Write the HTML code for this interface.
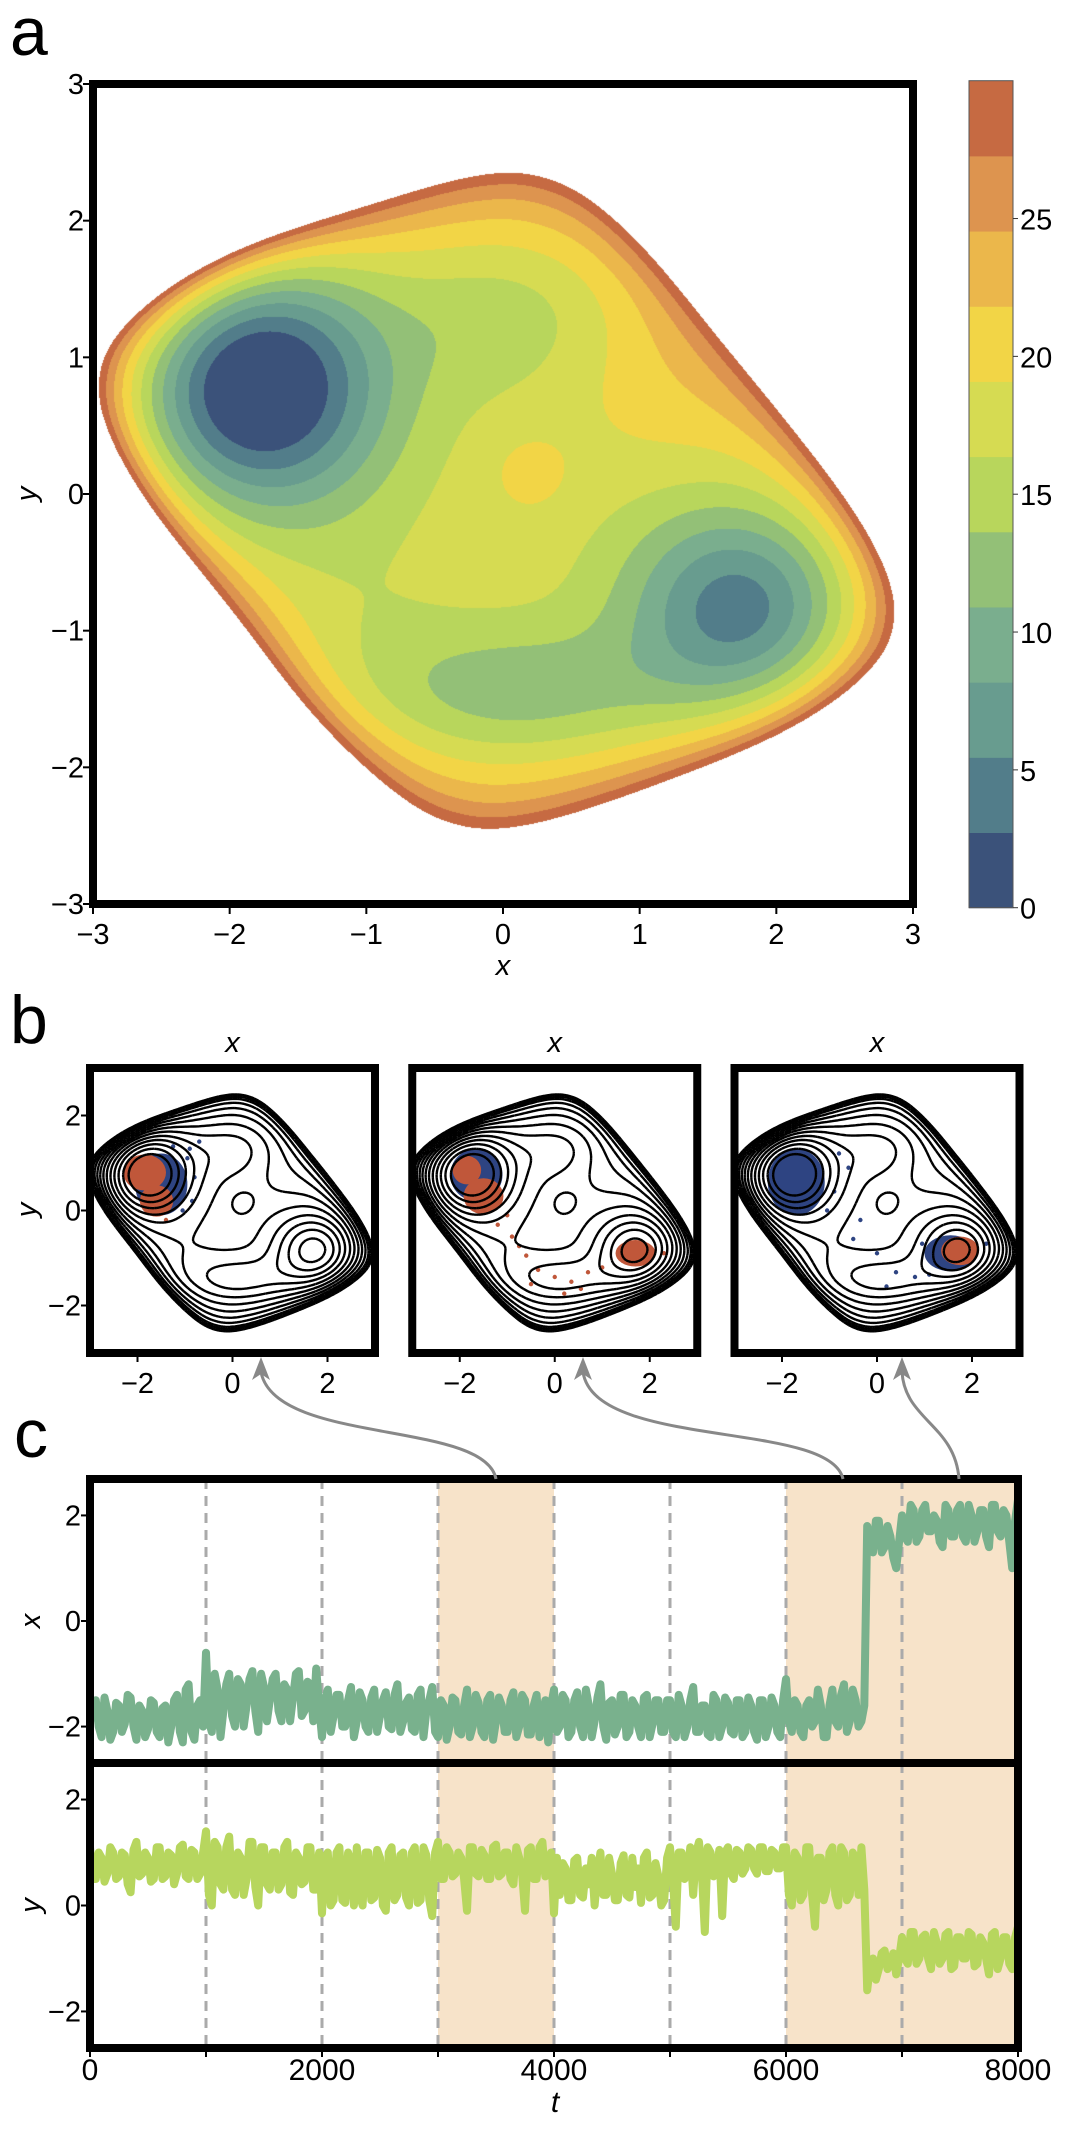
<!DOCTYPE html>
<html><head><meta charset="utf-8"><style>
html,body{margin:0;padding:0;background:#fff;}
#wrap{position:relative;width:1080px;height:2135px;overflow:hidden;}
#pot{position:absolute;left:93px;top:84px;width:820px;height:820px;}
svg{position:absolute;left:0;top:0;}
text{font-family:"Liberation Sans","DejaVu Sans",sans-serif;fill:#000;}
</style></head><body>
<div id="wrap">
<canvas id="pot" width="820" height="820"></canvas>
<svg id="fig" width="1080" height="2135"></svg>
</div>
<script>
// ---------- data ----------
const bandColors=["#3b527a","#527d8a","#689c8f","#7aae8e","#93c077","#b8d65c","#d6db52","#f2d546","#ebb74b","#dd944f","#c66a42"];
const cbarMin=0, cbarMax=30;
const cbarTicks=[0,5,10,15,20,25];
const axisTicksA=[-3,-2,-1,0,1,2,3];
const axisTicksB=[-2,0,2];
const contourLevels=[2.7,5.5,8.2,10.9,13.6,16.4,19.1,21.8,24.5,27.3,30,32,34];
// potential parameters (base rounded-square + gaussian wells)
const baseCenter=[-0.025,-0.05];
const baseAxisA=[0.955,-0.296], baseAxisB=[0.146,0.989];
const baseHalf=[2.93,2.38];
const basePow=1.1;
const baseSoft=0.16;
const baseCoef=[18,4,8]; // b0 + b2*N^2 + b8*N^8
const wellX=[-1.8,1.75,0.1,0.0,0.2,-1.1,1.1];
const wellY=[0.8,-0.85,-1.45,1.3,0.15,-1.0,0.9];
const wellSX=[0.65,0.6,0.8,0.6,0.2,0.5,0.5];
const wellSY=[0.65,0.55,0.35,0.4,0.2,0.5,0.5];
const wellAmp=[-22,-15.5,-7,-4,2.5,-2,1.5];
// time series: main samples at t=i*50, mid samples at t=i*50+25
const tStep=50;
const xSeries=[-1.9,-1.5,-2.2,-1.7,-2.1,-1.6,-1.95,-1.45,-2.25,-1.7,-2.05,-1.55,-2.2,-1.6,-2.0,-1.4,-2.3,-1.2,-2.25,-1.5,
-0.6,-2.1,-1.3,-1.7,-1.0,-2.0,-1.2,-1.6,-0.95,-2.1,-1.25,-1.5,-1.0,-1.9,-1.3,-1.45,-0.95,-1.7,-1.2,-0.9,
-2.2,-1.3,-1.8,-1.4,-2.0,-1.25,-1.9,-1.5,-2.1,-1.3,-1.8,-1.35,-2.05,-1.2,-1.9,-1.45,-2.1,-1.3,-1.7,-1.25,
-2.2,-1.6,-2.0,-1.5,-2.15,-1.3,-2.0,-1.55,-2.2,-1.4,-1.9,-1.6,-2.1,-1.35,-2.0,-1.5,-2.15,-1.4,-1.85,-2.3,
-1.3,-2.0,-1.5,-2.1,-1.35,-2.2,-1.6,-1.9,-1.2,-2.25,-1.5,-2.0,-1.4,-2.1,-1.6,-2.2,-1.4,-1.95,-1.5,-2.1,
-1.5,-2.2,-1.6,-2.0,-1.25,-2.1,-1.6,-2.2,-1.5,-2.0,-1.55,-2.15,-1.5,-2.1,-1.6,-2.25,-1.5,-2.0,-1.6,-2.2,
-1.1,-2.1,-1.6,-2.2,-1.5,-1.9,-1.6,-2.2,-1.3,-2.0,-1.2,-1.9,-1.5,-1.9,1.8,1.3,1.9,1.4,1.6,1.0,
2.0,1.5,2.1,1.6,2.2,1.7,1.9,1.4,2.1,1.6,2.2,1.5,2.0,1.7,2.1,1.4,2.2,1.6,2.0,1.0,2.3];
const xMid=[-1.6,-2.0,-1.45,-2.25,-1.55,-2.1,-1.4,-2.0,-1.6,-2.2,-1.5,-2.1,-1.65,-2.3,-1.5,-2.1,-1.3,-2.1,-1.6,-2.0,
-1.9,-1.0,-2.2,-1.2,-1.8,-1.1,-2.0,-1.1,-1.7,-1.0,-1.9,-1.1,-1.7,-1.2,-1.9,-1.0,-1.8,-1.15,-1.9,-1.6,
-1.5,-2.1,-1.4,-2.0,-1.5,-2.2,-1.35,-2.0,-1.45,-2.1,-1.5,-2.0,-1.4,-2.1,-1.55,-2.05,-1.4,-2.2,-1.5,-2.1,
-1.5,-2.25,-1.45,-2.1,-1.6,-2.2,-1.4,-2.1,-1.5,-2.25,-1.45,-2.1,-1.5,-2.2,-1.4,-2.15,-1.6,-2.2,-1.5,-1.6,
-2.1,-1.4,-2.2,-1.5,-2.0,-1.3,-2.2,-1.45,-2.0,-1.55,-2.15,-1.4,-2.2,-1.5,-2.0,-1.45,-2.2,-1.5,-2.1,-1.5,
-2.1,-1.4,-2.2,-1.5,-2.1,-1.6,-2.15,-1.4,-2.2,-1.45,-2.1,-1.5,-2.2,-1.45,-2.1,-1.5,-2.2,-1.45,-2.1,-1.5,
-1.9,-1.5,-2.1,-1.6,-2.0,-1.3,-2.2,-1.6,-1.9,-1.4,-2.1,-1.3,-2.0,-1.6,1.5,1.9,1.3,1.8,1.2,1.5,
1.6,2.2,1.5,2.1,1.7,2.0,1.5,2.2,1.6,2.1,1.6,2.2,1.5,2.1,1.6,2.2,1.7,2.1,1.5,1.9];
const ySeries=[1.1,0.5,0.9,0.6,1.0,0.55,0.95,0.25,1.2,0.6,0.9,0.5,1.1,0.55,0.95,0.6,1.15,0.5,1.0,0.6,
1.4,0.0,1.1,0.3,1.3,0.2,0.9,0.5,1.2,0.0,1.1,0.3,1.0,0.4,1.2,0.2,0.9,0.45,1.1,0.3,
-0.15,1.0,0.1,1.1,0.05,0.8,1.1,0.0,1.0,0.15,0.9,-0.1,1.1,0.2,1.0,0.0,1.1,0.1,0.95,-0.2,
1.2,0.5,1.0,0.6,0.9,-0.1,1.1,0.55,0.95,0.5,1.15,0.6,1.0,0.4,0.9,-0.1,1.1,0.5,1.2,0.6,
-0.15,0.2,0.7,0.1,0.9,0.15,0.4,0.0,1.0,0.2,0.6,0.1,0.95,0.15,0.35,0.05,1.0,0.2,0.55,0.1,
1.1,-0.4,1.0,0.6,0.2,1.2,-0.5,1.0,0.6,-0.2,1.1,0.5,1.0,0.7,1.05,0.6,1.1,0.65,1.0,0.7,
1.1,0.0,0.9,0.2,1.1,-0.4,0.9,0.3,1.1,0.0,1.0,0.2,0.9,1.1,-1.6,-1.0,-1.2,-0.85,-1.1,-1.3,
-0.6,-1.1,-0.5,-1.0,-0.55,-1.2,-0.7,-1.0,-0.5,-1.15,-0.6,-1.0,-0.55,-1.1,-0.7,-1.3,-0.5,-1.0,-0.6,-1.2,-0.4];
const yMid=[0.5,1.0,0.45,1.1,0.5,1.0,0.4,1.05,0.55,1.0,0.45,1.1,0.5,1.0,0.4,1.1,0.55,1.05,0.5,1.0,
0.2,1.2,0.4,1.1,0.3,1.0,0.2,1.2,0.35,1.1,0.4,1.0,0.3,1.1,0.25,1.0,0.4,1.1,0.3,1.0,
0.9,0.0,1.0,0.1,1.0,0.0,0.2,1.0,0.1,1.05,0.0,1.0,0.1,0.95,0.15,1.0,0.05,1.1,0.1,1.0,
0.5,1.1,0.55,1.0,0.5,1.1,0.6,1.05,0.5,1.1,0.55,1.0,0.5,1.1,0.6,1.05,0.5,1.1,0.55,1.0,
0.9,0.8,0.1,0.85,0.2,0.7,0.9,0.6,0.2,0.9,0.1,0.8,0.2,0.9,0.7,0.9,0.15,0.8,0.0,0.9,
0.5,1.0,0.5,1.1,1.0,0.6,1.1,0.55,1.05,1.0,0.6,1.05,0.6,1.1,0.7,1.1,0.65,1.05,0.7,1.1,
0.2,1.0,0.1,1.1,0.2,0.9,0.1,1.0,0.2,1.1,0.1,1.0,0.2,0.3,-1.1,-1.4,-0.9,-1.2,-0.9,-1.0,
-1.0,-0.5,-1.1,-0.6,-1.0,-0.5,-1.1,-0.55,-1.2,-0.6,-1.0,-0.5,-1.15,-0.6,-1.0,-0.55,-1.2,-0.6,-1.1,-0.6];
const shadeStart=[3000,6000], shadeEnd=[4000,8000];
const dashTimes=[1000,2000,3000,4000,5000,6000,7000];
const tTicks=[0,2000,4000,6000,8000];
const tMinor=[1000,3000,5000,7000];
const cTicks=[-2,0,2];
// panel b scatter blobs
const blobPanel=[0,0,0, 1,1,1,1, 2,2,2];
const blobCX=[-1.5,-1.85,-1.6, -1.65,-1.85,-1.5,1.7, -1.7,1.55,1.75];
const blobCY=[0.55,0.8,0.2, 0.75,0.85,0.3,-0.9, 0.6,-0.9,-0.85];
const blobRX=[0.55,0.45,0.35, 0.55,0.3,0.42,0.42, 0.6,0.55,0.4];
const blobRY=[0.65,0.38,0.33, 0.55,0.3,0.38,0.28, 0.7,0.38,0.3];
const blobCol=["b","o","o","b","o","o","o","b","b","o"];
const dotPanel=[0,0,0,0,0,0,0,0,0,0, 1,1,1,1,1,1,1,1,1,1,1,1,1,1, 2,2,2,2,2,2,2,2,2,2,2,2,2,2];
const dotX=[-0.95,-0.7,-1.0,-0.85,-1.05,-0.9,-1.4,-1.25,-1.1,-0.8, -1.2,-0.9,-0.6,-0.35,0.0,0.35,0.7,1.0,-0.5,0.2,-0.75,0.55,-1.0,2.3, -0.9,-0.6,-0.35,0.0,0.4,0.8,1.1,-0.5,0.2,0.95,1.2,-1.05,2.3,-0.8];
const dotY=[1.1,1.45,0.6,0.2,0.0,1.3,-0.2,1.35,0.9,0.7, -0.3,-0.55,-0.95,-1.25,-1.4,-1.5,-1.3,-1.2,-1.55,-1.75,-0.75,-1.65,-0.1,-0.9, 0.4,0.9,-0.2,-0.9,-1.3,-1.4,-1.35,-0.6,-1.6,-0.7,-1.1,0.0,-0.7,1.2];
const dotCol=["b","b","b","b","b","b","o","b","b","b", "o","o","o","o","o","o","o","o","o","o","o","o","o","o", "b","b","b","b","b","b","b","b","b","b","b","b","b","b"];
const panelTitles=["x","x","x"];

// ---------- helpers ----------
const NS="http://www.w3.org/2000/svg";
const svg=document.getElementById('fig');
function mk(tag,attrs,parent){const e=document.createElementNS(NS,tag);for(const k in attrs)e.setAttribute(k,attrs[k]);(parent||svg).appendChild(e);return e;}
function txt(s,x,y,size,anchor,parent,extra){const e=mk('text',Object.assign({x:x,y:y,'font-size':size,'text-anchor':anchor||'middle'},extra||{}),parent);e.textContent=s;return e;}
function sa(z){return Math.sqrt(z*z+baseSoft*baseSoft)-baseSoft;}
const saNorm=sa(1);
function V(x,y){
  const dx=x-baseCenter[0], dy=y-baseCenter[1];
  const aX=baseAxisA[0],aY=baseAxisA[1],bX=baseAxisB[0],bY=baseAxisB[1];
  const det=aX*bY-aY*bX;
  const s=(dx*bY-dy*bX)/det, t=(aX*dy-aY*dx)/det;
  const N=Math.pow(Math.pow(sa(s/baseHalf[0]),basePow)+Math.pow(sa(t/baseHalf[1]),basePow),1/basePow)/saNorm;
  let v=baseCoef[0]+baseCoef[1]*N*N+baseCoef[2]*Math.pow(N,8);
  for(let i=0;i<wellX.length;i++){
    const ex=(x-wellX[i])/wellSX[i], ey=(y-wellY[i])/wellSY[i];
    v+=wellAmp[i]*Math.exp(-0.5*(ex*ex+ey*ey));
  }
  return v;
}
const nB=bandColors.length, step=(cbarMax-cbarMin)/nB;

// ---------- panel a heatmap ----------
(function(){
  const c=document.getElementById('pot'),ctx=c.getContext('2d');
  const W=820,img=ctx.createImageData(W,W);
  const rgb=bandColors.map(h=>[parseInt(h.substr(1,2),16),parseInt(h.substr(3,2),16),parseInt(h.substr(5,2),16)]);
  for(let py=0;py<W;py++){const y=3-(py+0.5)/W*6;
    for(let px=0;px<W;px++){const x=-3+(px+0.5)/W*6;
      const v=V(x,y);const o=(py*W+px)*4;
      if(v>=cbarMax){img.data[o]=255;img.data[o+1]=255;img.data[o+2]=255;img.data[o+3]=255;continue;}
      let k=Math.floor((v-cbarMin)/step);if(k<0)k=0;if(k>=nB)k=nB-1;
      img.data[o]=rgb[k][0];img.data[o+1]=rgb[k][1];img.data[o+2]=rgb[k][2];img.data[o+3]=255;}}
  ctx.putImageData(img,0,0);
})();

// panel a axes
const A={l:93,r:913,t:84,b:904};
const axX=v=>A.l+(v+3)/6*(A.r-A.l), axY=v=>A.b-(v+3)/6*(A.b-A.t);
const gA=mk('g',{});
const fA=mk('rect',{x:A.l,y:A.t,width:A.r-A.l,height:A.b-A.t,fill:'none',stroke:'#000','stroke-width':8},gA);


axisTicksA.forEach(v=>{
  mk('line',{x1:axX(v),x2:axX(v),y1:A.b,y2:A.b+10,stroke:'#000','stroke-width':2},gA);
  const tx=txt(String(v).replace('-','\u2212'),axX(v),A.b+40,29,'middle',gA);
  
  
  mk('line',{x1:A.l-10,x2:A.l,y1:axY(v),y2:axY(v),stroke:'#000','stroke-width':2},gA);
  const ty=txt(String(v).replace('-','\u2212'),A.l-9,axY(v)+10,29,'end',gA);
  
  
});
const xtA=txt('x',503,975,29,'middle',gA,{'font-style':'italic'});


const ytA=txt('y',0,0,29,'middle',gA,{'font-style':'italic',transform:'translate(36,494) rotate(-90)'});


const la=txt('a',10,55,68,'start',gA);


// colorbar
const CB={l:969,r:1013,t:80.7,b:907.7};
const cbY=v=>CB.b-(v-cbarMin)/(cbarMax-cbarMin)*(CB.b-CB.t);
const gC=mk('g',{});
bandColors.forEach((col,k)=>{const r=mk('rect',{x:CB.l,y:cbY(cbarMin+(k+1)*step),width:CB.r-CB.l,height:cbY(cbarMin+k*step)-cbY(cbarMin+(k+1)*step)+0.5,fill:col},gC);
  
  });
mk('rect',{x:CB.l,y:CB.t,width:CB.r-CB.l,height:CB.b-CB.t,fill:'none',stroke:'#555','stroke-width':1},gC);
cbarTicks.forEach(v=>{mk('line',{x1:CB.r,x2:CB.r+5,y1:cbY(v),y2:cbY(v),stroke:'#333','stroke-width':1},gC);
  const t=txt(String(v),CB.r+7,cbY(v)+11,29,'start',gC);
  
  });

// ---------- panel b ----------
const bLefts=[90,412.25,734.5], bTop=1068, bSize=285;
const lb=txt('b',10,1043,68,'start');


const G=120, gv=[];
for(let j=0;j<=G;j++){gv.push([]);for(let i=0;i<=G;i++){gv[j].push(V(-3+i/G*6,3-j/G*6));}}
function contourPath(px,py){
  let d='';
  contourLevels.forEach(L=>{
    for(let j=0;j<G;j++)for(let i=0;i<G;i++){
      const c=[[i,j,gv[j][i]],[i+1,j,gv[j][i+1]],[i+1,j+1,gv[j+1][i+1]],[i,j+1,gv[j+1][i]]];
      const pts=[];
      for(let e=0;e<4;e++){const a=c[e],b=c[(e+1)%4];
        if((a[2]<L)!==(b[2]<L)){const f=(L-a[2])/(b[2]-a[2]);pts.push([a[0]+f*(b[0]-a[0]),a[1]+f*(b[1]-a[1])]);}}
      for(let q=0;q+1<pts.length;q+=2){
        d+='M'+px(-3+pts[q][0]/G*6).toFixed(1)+' '+py(3-pts[q][1]/G*6).toFixed(1)+'L'+px(-3+pts[q+1][0]/G*6).toFixed(1)+' '+py(3-pts[q+1][1]/G*6).toFixed(1);}
    }});
  return d;
}
const colMap={o:'#c0573a',b:'#2e4482'};
bLefts.forEach((L,p)=>{
  const g=mk('g',{});
  
  
  const px=v=>L+(v+3)/6*bSize, py=v=>bTop+bSize-(v+3)/6*bSize;
  const cid='clipb'+p;
  const cp=mk('clipPath',{id:cid},g);mk('rect',{x:L,y:bTop,width:bSize,height:bSize},cp);
  const inner=mk('g',{'clip-path':'url(#'+cid+')'},g);
  for(let i=0;i<blobPanel.length;i++)if(blobPanel[i]===p){
    const e=mk('ellipse',{cx:px(blobCX[i]),cy:py(blobCY[i]),rx:blobRX[i]/6*bSize,ry:blobRY[i]/6*bSize,fill:colMap[blobCol[i]]},inner);
    
    }
  for(let i=0;i<dotPanel.length;i++)if(dotPanel[i]===p){
    const e=mk('circle',{cx:px(dotX[i]),cy:py(dotY[i]),r:2.2,fill:colMap[dotCol[i]]},inner);
    
    }
  const cpth=mk('path',{d:contourPath(px,py),fill:'none',stroke:'#000','stroke-width':2.4},inner);
  
  
  mk('rect',{x:L,y:bTop,width:bSize,height:bSize,fill:'none',stroke:'#000','stroke-width':8},g);
  axisTicksB.forEach(v=>{
    mk('line',{x1:px(v),x2:px(v),y1:bTop+bSize,y2:bTop+bSize+9,stroke:'#000','stroke-width':2},g);
    const t=txt(String(v).replace('-','\u2212'),px(v),bTop+bSize+40,29,'middle',g);
    
    
    if(p===0){mk('line',{x1:L-9,x2:L,y1:py(v),y2:py(v),stroke:'#000','stroke-width':2},g);
      const ty=txt(String(v).replace('-','\u2212'),L-9,py(v)+10,29,'end',g);
      
      }
  });
  const tt=txt(panelTitles[p],L+bSize/2,1052,29,'middle',g,{'font-style':'italic'});
  
  
});
const ybt=txt('y',0,0,29,'middle',null,{'font-style':'italic',transform:'translate(36,1210) rotate(-90)'});



// ---------- panel c ----------
const lc=txt('c',14,1457,68,'start');


const C={l:90,r:1018};
const tX=t=>C.l+t/8000*(C.r-C.l);
const sub=[{t:1479,b:1763,data:xSeries,mid:xMid,col:'#79b18d',name:'x'},{t:1763,b:2048,data:ySeries,mid:yMid,col:'#b7d65e',name:'y'}];
const arrowD=[["M496 1479 C 485 1420, 275 1445, 261 1372",261],["M843 1479 C 830 1420, 595 1450, 583 1372",583],["M959 1479 C 955 1425, 905 1420, 902 1372",902]];
sub.forEach((s,si)=>{
  const g=mk('g',{});
  
  
  const yv=v=>(s.t+s.b)/2-v*(s.b-s.t)/5.38;
  shadeStart.forEach((a,i)=>{const r=mk('rect',{x:tX(a),y:s.t,width:tX(shadeEnd[i])-tX(a),height:s.b-s.t,fill:'#f7e3c9'},g);
    
    });
  dashTimes.forEach(d=>{const l=mk('line',{x1:tX(d),x2:tX(d),y1:s.t,y2:s.b,stroke:'#aaa','stroke-width':3,'stroke-dasharray':'10 7'},g);
    
    });
  const cid='clipc'+si;const cp=mk('clipPath',{id:cid},g);mk('rect',{x:C.l,y:s.t,width:C.r-C.l,height:s.b-s.t},cp);
  const pts=[];
  s.data.forEach((v,i)=>{pts.push(tX(i*tStep).toFixed(1)+','+yv(v).toFixed(1));
    if(i<s.mid.length)pts.push(tX(i*tStep+tStep/2).toFixed(1)+','+yv(s.mid[i]).toFixed(1));});
  const pl=mk('polyline',{points:pts.join(' '),fill:'none',stroke:s.col,'stroke-width':8,'stroke-linejoin':'round','clip-path':'url(#'+cid+')'},g);
  
  
  cTicks.forEach(v=>{mk('line',{x1:C.l-9,x2:C.l,y1:yv(v),y2:yv(v),stroke:'#000','stroke-width':2},g);
    const t=txt(String(v).replace('-','\u2212'),C.l-9,yv(v)+10,29,'end',g);
    
    });
  const yt=txt(s.name,0,0,29,'middle',g,{'font-style':'italic',transform:'translate(40,'+yv(0)+') rotate(-90)'});
  
  
});
mk('rect',{x:C.l,y:1479,width:C.r-C.l,height:2048-1479,fill:'none',stroke:'#000','stroke-width':8});
mk('line',{x1:C.l,x2:C.r,y1:1763,y2:1763,stroke:'#000','stroke-width':8});
tTicks.concat(tMinor).forEach(t=>{mk('line',{x1:tX(t),x2:tX(t),y1:2048,y2:2057,stroke:'#000','stroke-width':2});});
tTicks.forEach(t=>{const e=txt(String(t),tX(t),2080,30,'middle');
  
  });
const tt=txt('t',555,2112,30,'middle',null,{'font-style':'italic'});


arrowD.forEach(a=>{const p=mk('path',{d:a[0],fill:'none',stroke:'#888','stroke-width':3});
  
  
  const h=mk('path',{d:'M'+a[1]+' 1357 L'+(a[1]-9)+' 1380 L'+a[1]+' 1374 L'+(a[1]+9)+' 1380 Z',fill:'#888'});
  
  });
</script>
</body></html>
